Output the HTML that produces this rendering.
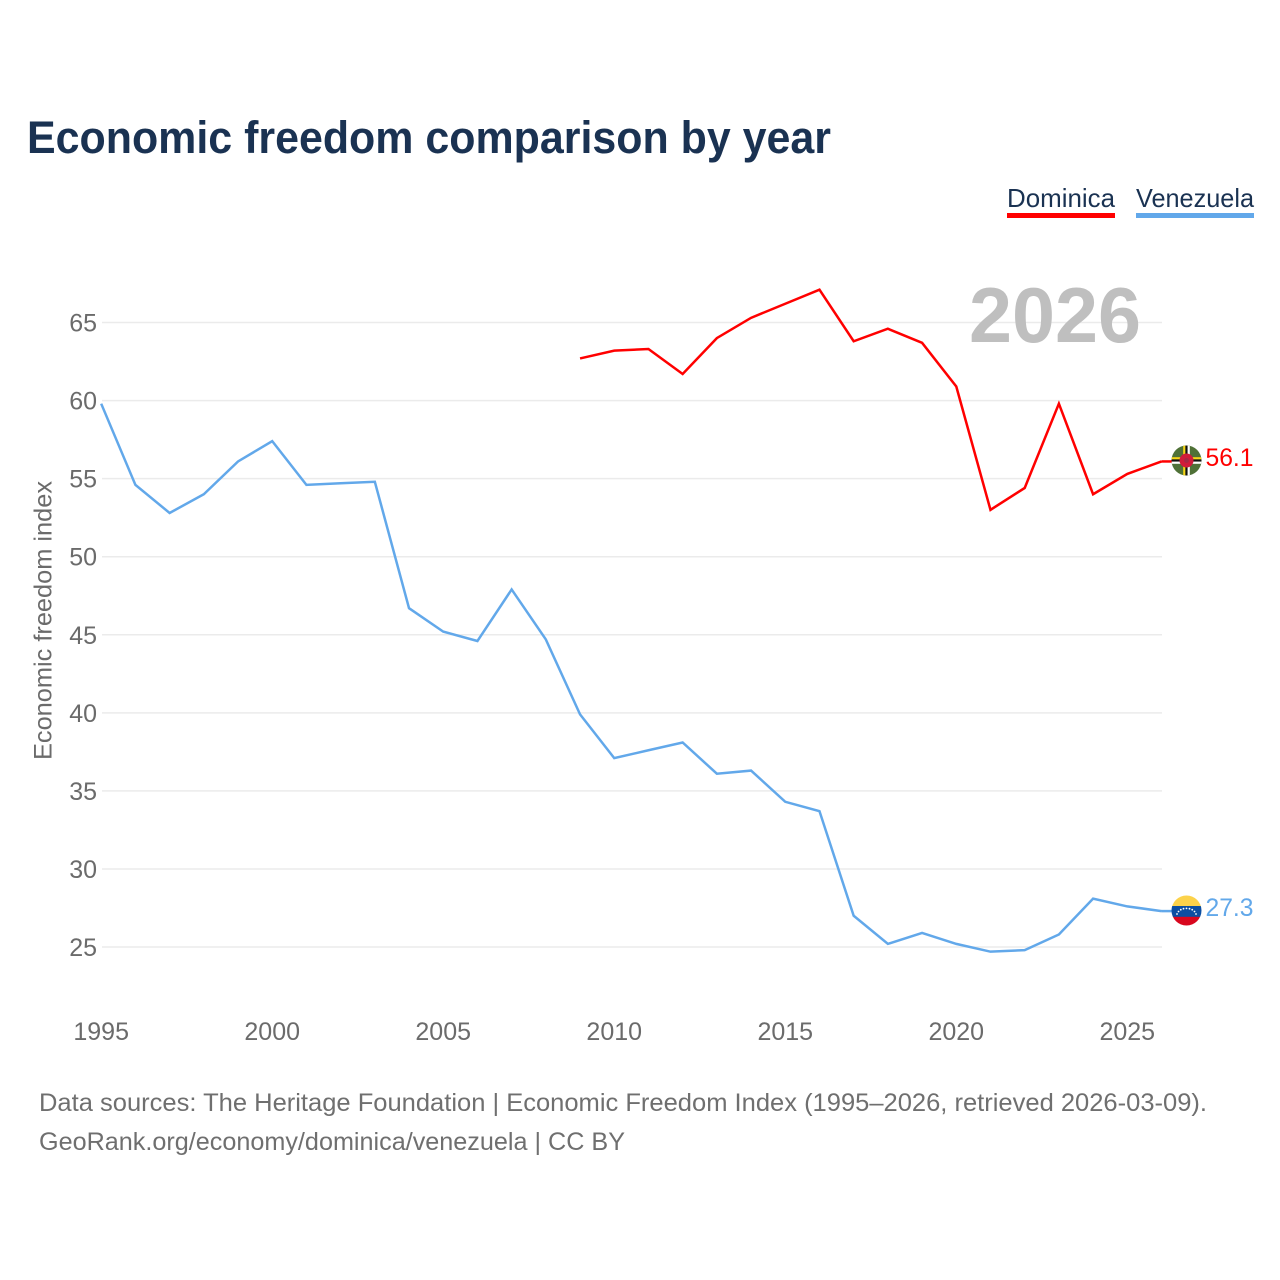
<!DOCTYPE html>
<html lang="en">
<head>
<meta charset="utf-8">
<title>Economic freedom comparison by year</title>
<style>
html,body{margin:0;padding:0;background:#fff;}
svg{display:block;font-family:"Liberation Sans",sans-serif;}
</style>
</head>
<body>
<svg id="chart" width="1280" height="1280" viewBox="0 0 1280 1280" xmlns="http://www.w3.org/2000/svg">
  <defs>
    <clipPath id="clip-dm"><circle cx="1186.500" cy="460.500" r="15"/></clipPath>
    <clipPath id="clip-ve"><circle cx="1186.500" cy="910.500" r="15"/></clipPath>
  </defs>
  <text x="27" y="153" font-size="45" font-weight="700" fill="#1a3252" textLength="804" lengthAdjust="spacingAndGlyphs">Economic freedom comparison by year</text>

  <g>
    <g>
      <text x="1007" y="207" font-size="26" fill="#1a3252" textLength="108" lengthAdjust="spacingAndGlyphs">Dominica</text>
      <rect x="1007" y="213" width="108" height="5" fill="#ff0000"/>
    </g>
    <g>
      <text x="1136" y="207" font-size="26" fill="#1a3252" textLength="118" lengthAdjust="spacingAndGlyphs">Venezuela</text>
      <rect x="1136" y="213" width="118" height="5" fill="#62a8ea"/>
    </g>
  </g>

  <g id="grid"></g>
  <g id="yticks"></g>
  <g id="xticks"></g>
  <text transform="translate(51.500,760) rotate(-90)" font-size="25" fill="#6b6b6b" textLength="279" lengthAdjust="spacingAndGlyphs">Economic freedom index</text>

  <text x="969" y="342" font-size="78" font-weight="700" fill="#bfbfbf" textLength="172" lengthAdjust="spacingAndGlyphs">2026</text>

  <g id="series"></g>

  <g clip-path="url(#clip-dm)">
    <rect x="1171" y="445" width="31" height="31" fill="#4f7137"/>
    <rect x="1171" y="457.200" width="31" height="2.200" fill="#f8d616"/>
    <rect x="1171" y="459.400" width="31" height="2.200" fill="#111"/>
    <rect x="1171" y="461.600" width="31" height="2.200" fill="#fff"/>
    <rect x="1183.200" y="445" width="2.200" height="31" fill="#f8d616"/>
    <rect x="1185.400" y="445" width="2.200" height="31" fill="#111"/>
    <rect x="1187.600" y="445" width="2.200" height="31" fill="#fff"/>
    <circle cx="1186.500" cy="460.500" r="7" fill="#d01c3a"/>
    <circle cx="1186.500" cy="460.500" r="2.500" fill="#a52a45"/>
  </g>
  <text x="1205.500" y="466" font-size="25" fill="#ff0000" textLength="48" lengthAdjust="spacingAndGlyphs">56.1</text>

  <g clip-path="url(#clip-ve)">
    <rect x="1171" y="895" width="31" height="12" fill="#fcd24a"/>
    <rect x="1171" y="906" width="31" height="11" fill="#0b4ea2"/>
    <rect x="1171" y="916.800" width="31" height="10" fill="#d8071e"/>
    <g fill="#fff">
      <circle cx="1177" cy="914" r="0.900"/><circle cx="1178.500" cy="911.500" r="0.900"/>
      <circle cx="1180.800" cy="909.700" r="0.900"/><circle cx="1183.500" cy="908.700" r="0.900"/>
      <circle cx="1186.500" cy="908.400" r="0.900"/><circle cx="1189.500" cy="908.700" r="0.900"/>
      <circle cx="1192.200" cy="909.700" r="0.900"/><circle cx="1194.500" cy="911.500" r="0.900"/>
      <circle cx="1196" cy="914" r="0.900"/>
    </g>
  </g>
  <text x="1205.500" y="916" font-size="25" fill="#62a8ea" textLength="48" lengthAdjust="spacingAndGlyphs">27.3</text>

  <text x="39" y="1111" font-size="25" fill="#6f6f6f" textLength="1168" lengthAdjust="spacingAndGlyphs">Data sources: The Heritage Foundation | Economic Freedom Index (1995–2026, retrieved 2026-03-09).</text>
  <text x="39" y="1150" font-size="25" fill="#6f6f6f" textLength="586" lengthAdjust="spacingAndGlyphs">GeoRank.org/economy/dominica/venezuela | CC BY</text>
</svg>
<script>
const yTickValues = [25, 30, 35, 40, 45, 50, 55, 60, 65];
const xTickYears = [1995, 2000, 2005, 2010, 2015, 2020, 2025];
const venezuelaYears = [1995,1996,1997,1998,1999,2000,2001,2002,2003,2004,2005,2006,2007,2008,2009,2010,2011,2012,2013,2014,2015,2016,2017,2018,2019,2020,2021,2022,2023,2024,2025,2026];
const venezuelaValues = [59.8,54.6,52.8,54.0,56.1,57.4,54.6,54.7,54.8,46.7,45.2,44.6,47.9,44.7,39.9,37.1,37.6,38.1,36.1,36.3,34.3,33.7,27.0,25.2,25.9,25.2,24.7,24.8,25.8,28.1,27.6,27.3];
const dominicaYears = [2009,2010,2011,2012,2013,2014,2015,2016,2017,2018,2019,2020,2021,2022,2023,2024,2025,2026];
const dominicaValues = [62.7,63.2,63.3,61.7,64.0,65.3,66.2,67.1,63.8,64.6,63.7,60.9,53.0,54.4,59.8,54.0,55.3,56.1];

const SVG_NS = 'http://www.w3.org/2000/svg';
function xScale(year) { return 101.2 + (year - 1995) * (1161.5 - 101.2) / 31; }
function yScale(value) { return 947 - (value - 25) * (947 - 322.5) / 40; }

const grid = document.getElementById('grid');
const yticks = document.getElementById('yticks');
yTickValues.forEach(function (v) {
  const line = document.createElementNS(SVG_NS, 'line');
  
  
  line.setAttribute('x1', 102);
  line.setAttribute('x2', 1162);
  line.setAttribute('y1', yScale(v));
  line.setAttribute('y2', yScale(v));
  line.setAttribute('stroke', '#ebebeb');
  line.setAttribute('stroke-width', 1.5);
  grid.appendChild(line);
  const label = document.createElementNS(SVG_NS, 'text');
  
  
  label.setAttribute('x', 97);
  label.setAttribute('y', yScale(v) + 9);
  label.setAttribute('text-anchor', 'end');
  label.setAttribute('font-size', 25);
  label.setAttribute('fill', '#6b6b6b');
  label.textContent = String(v);
  yticks.appendChild(label);
});

const xticks = document.getElementById('xticks');
xTickYears.forEach(function (y) {
  const label = document.createElementNS(SVG_NS, 'text');
  
  
  label.setAttribute('x', xScale(y));
  label.setAttribute('y', 1040);
  label.setAttribute('text-anchor', 'middle');
  label.setAttribute('font-size', 25);
  label.setAttribute('fill', '#6b6b6b');
  label.textContent = String(y);
  xticks.appendChild(label);
});

function pointsFor(years, values) {
  return years.map(function (y, i) {
    return xScale(y).toFixed(2) + ',' + yScale(values[i]).toFixed(2);
  }).join(' ');
}
const series = document.getElementById('series');

const lineVe = document.createElementNS(SVG_NS, 'polyline');


lineVe.setAttribute('points', pointsFor(venezuelaYears, venezuelaValues));
lineVe.setAttribute('fill', 'none');
lineVe.setAttribute('stroke', '#62a8ea');
lineVe.setAttribute('stroke-width', 2.5);
series.appendChild(lineVe);

const lineDm = document.createElementNS(SVG_NS, 'polyline');


lineDm.setAttribute('points', pointsFor(dominicaYears, dominicaValues));
lineDm.setAttribute('fill', 'none');
lineDm.setAttribute('stroke', '#ff0000');
lineDm.setAttribute('stroke-width', 2.5);
series.appendChild(lineDm);

const connectorVe = document.createElementNS(SVG_NS, 'line');


connectorVe.setAttribute('x1', xScale(2026));
connectorVe.setAttribute('x2', 1172);
connectorVe.setAttribute('y1', yScale(venezuelaValues[venezuelaValues.length - 1]));
connectorVe.setAttribute('y2', yScale(venezuelaValues[venezuelaValues.length - 1]));
connectorVe.setAttribute('stroke', '#62a8ea');
connectorVe.setAttribute('stroke-width', 2.5);
series.appendChild(connectorVe);

const connectorDm = document.createElementNS(SVG_NS, 'line');


connectorDm.setAttribute('x1', xScale(2026));
connectorDm.setAttribute('x2', 1172);
connectorDm.setAttribute('y1', yScale(dominicaValues[dominicaValues.length - 1]));
connectorDm.setAttribute('y2', yScale(dominicaValues[dominicaValues.length - 1]));
connectorDm.setAttribute('stroke', '#ff0000');
connectorDm.setAttribute('stroke-width', 2.5);
series.appendChild(connectorDm);
</script>
</body>
</html>
